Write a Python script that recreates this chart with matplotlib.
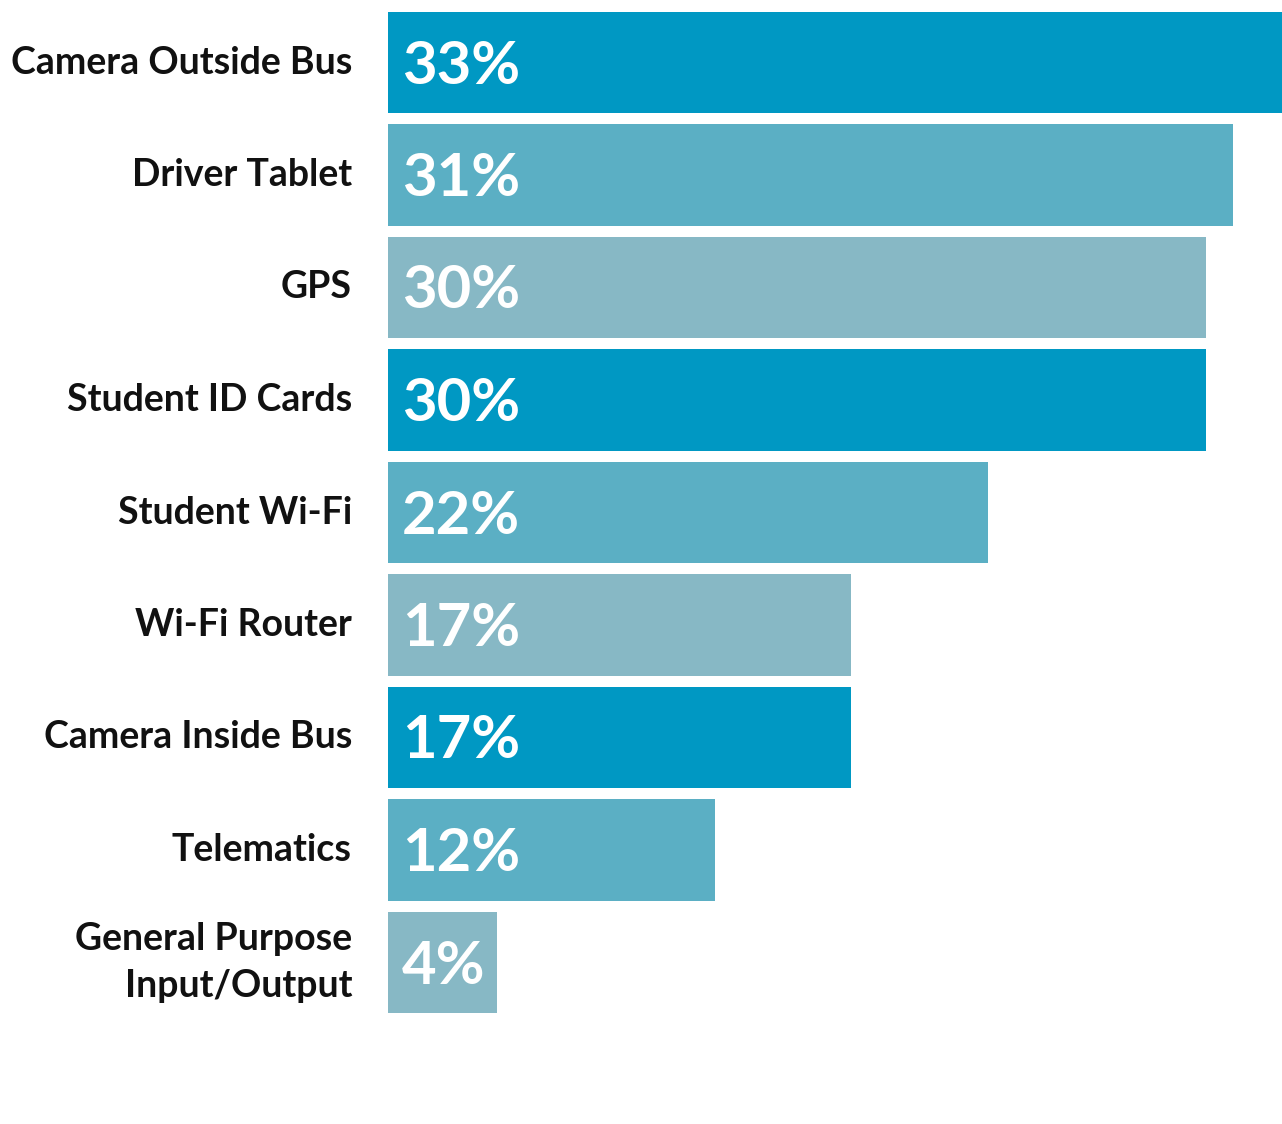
import matplotlib.pyplot as plt

# data
categories = ['Camera Outside Bus', 'Driver Tablet', 'GPS', 'Student ID Cards',
              'Student Wi-Fi', 'Wi-Fi Router', 'Camera Inside Bus', 'Telematics',
              'General Purpose\nInput/Output']
values = [33, 31, 30, 30, 22, 17, 17, 12, 4]
bar_colors = ['#0098C3', '#5BAFC4', '#87B8C5', '#0098C3', '#5BAFC4',
              '#87B8C5', '#0098C3', '#5BAFC4', '#87B8C5']

W, H = 1282, 1124
fig = plt.figure(figsize=(W / 100, H / 100), dpi=100)

# axes placed in pixel terms: bars start at x=388, 112.5 px per row
top_px, bot_px = 6.25, 1018.75
ax = fig.add_axes([388 / W, (H - bot_px) / H, (W - 388) / W, (bot_px - top_px) / H])

ypos = list(range(len(categories)))
ax.barh(ypos, values, height=0.9, color=bar_colors)
ax.set_ylim(len(categories) - 0.5, -0.5)
ax.set_xlim(0, 32.8)
ax.axis('off')

font = 'Lato'
for y, (cat, val) in enumerate(zip(categories, values)):
    # category label to the left of the bar
    ax.annotate(cat, xy=(0, y), xytext=(-36, 0), textcoords='offset pixels',
                ha='right', va='center', fontsize=27, fontfamily=font,
                fontweight='bold', color='#111111', linespacing=1.45)
    # percentage inside the bar
    ax.annotate(f'{val}%', xy=(0, y), xytext=(14, -4), textcoords='offset pixels',
                ha='left', va='center', fontsize=43, fontfamily=font,
                fontweight='bold', color='white')

fig.savefig('out.png', dpi=100, facecolor='white')
